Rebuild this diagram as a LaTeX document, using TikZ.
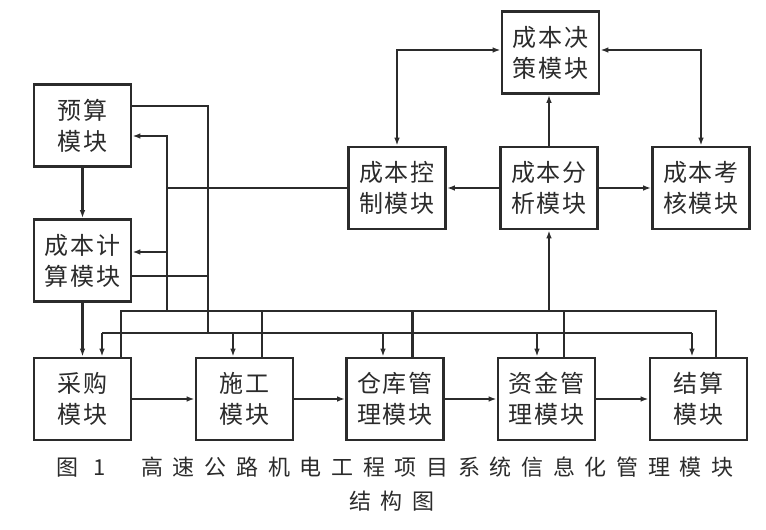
\documentclass[tikz,border=0pt]{standalone}
\usepackage{fontspec}
\setmainfont{Noto Sans CJK SC}
\newfontfamily\boxfont[LetterSpace=8]{Noto Sans CJK SC}
\newfontfamily\capfont[LetterSpace=44]{Noto Sans CJK SC}
\usetikzlibrary{arrows.meta,calc}
\definecolor{ink}{HTML}{2B2B2B}

\begin{document}
\begin{tikzpicture}[x=1pt,y=-1pt,
  mod/.style={draw=ink,text=ink,line width=2.6pt,minimum width=97pt,minimum height=82pt,inner sep=0pt,align=center,font=\boxfont\fontsize{24}{31}\selectfont},
  ln/.style={draw=ink,line width=2.1pt},
  ar/.style={ln,-{Latex[length=8pt,width=5.5pt]}},
  biar/.style={ln,{Latex[length=8pt,width=5.5pt]}-{Latex[length=8pt,width=5.5pt]}}]
\useasboundingbox (0,0) rectangle (766,530);
% modules
\node[mod] (ys) at (82.5,125.5) {预算\\模块};
\node[mod] (js) at (82.5,260.5) {成本计\\算模块};
\node[mod] (cg) at (82.5,399) {采购\\模块};
\node[mod] (sg) at (244.5,399) {施工\\模块};
\node[mod] (ck) at (395,399) {仓库管\\理模块};
\node[mod] (zj) at (546.5,399) {资金管\\理模块};
\node[mod] (jsm) at (698.5,399) {结算\\模块};
\node[mod] (jc) at (550.5,52.5) {成本决\\策模块};
\node[mod] (kz) at (397,188) {成本控\\制模块};
\node[mod] (fx) at (549,188) {成本分\\析模块};
\node[mod] (kh) at (701,188) {成本考\\核模块};
\coordinate (bus1) at (0,311);
\coordinate (bus2) at (0,333);
\coordinate (fbx) at (167,0);
\coordinate (ffx) at (208,0);
% main chain
\draw[ar] (ys) -- (js);
\draw[ar] (js) -- (cg);
\draw[ar] (cg) -- (sg);
\draw[ar] (sg) -- (ck);
\draw[ar] (ck) -- (zj);
\draw[ar] (zj) -- (jsm);
% analysis cluster
\draw[ar] (fx.north) -- (fx.north |- jc.south);
\draw[ar] (fx) -- (kz);
\draw[ar] (fx) -- (kh);
\draw[biar] ([yshift=2.5pt]jc.west) -| (kz.north);
\draw[biar] ([yshift=2.5pt]jc.east) -| (kh.north);
% collecting bus
\draw[ln] ([xshift=38.5pt]cg.north) -- ([xshift=38.5pt]cg.north |- bus1) -| ([xshift=17.5pt]jsm.north);
\foreach \n in {sg,ck,zj}{\draw[ln] ([xshift=17.5pt]\n.north) -- ([xshift=17.5pt]\n.north |- bus1);}
\draw[ar] (fx.south |- bus1) -- (fx.south);
\draw[ar] (fbx |- bus1) |- ([yshift=-10.5pt]ys.east);
\draw[ar] ([yshift=8.5pt]js.east -| fbx) -- ([yshift=8.5pt]js.east);
\draw[ln] (kz.west) -- (kz.west -| fbx);
% distributing bus
\draw[ln] ([yshift=19.5pt]ys.east) -| (ffx |- bus2);
\draw[ln] ([yshift=-15.5pt]js.east) -- ([yshift=-15.5pt]js.east -| ffx);
\draw[ln] ([xshift=19.5pt]cg.north |- bus2) -- ([xshift=-6.5pt]jsm.north |- bus2);
\foreach \n/\d in {cg/19.5,sg/-11.5,ck/-12,zj/-9.5,jsm/-6.5}{\draw[ar] ([xshift=\d pt]\n.north |- bus2) -- ([xshift=\d pt]\n.north);}
% caption
\node[font=\capfont\fontsize{22}{26}\selectfont,text=ink] (cap1) at (395,467) {图 1\hspace{36pt}高速公路机电工程项目系统信息化管理模块};
\node[font=\capfont\fontsize{22}{26}\selectfont,text=ink] (cap2) at (392,501) {结构图};
\end{tikzpicture}
\end{document}
